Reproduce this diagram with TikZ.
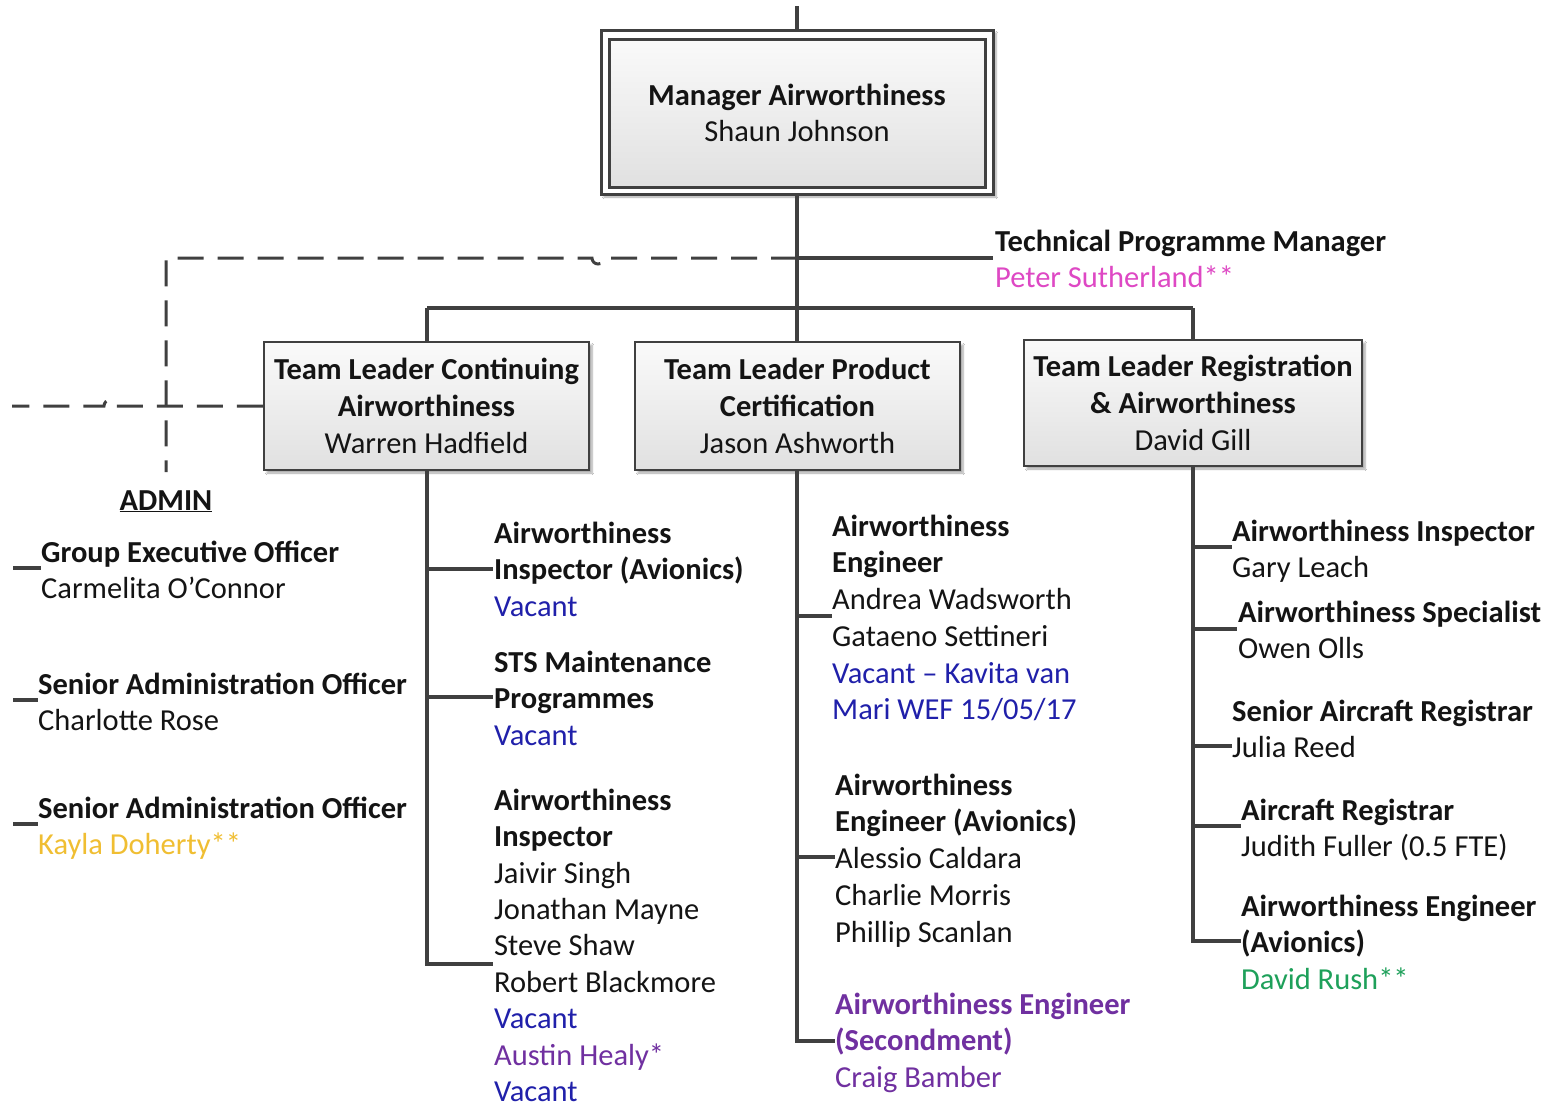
\documentclass[tikz,border=0pt]{standalone}
\usepackage{fontspec}
\setmainfont{Carlito}
\usetikzlibrary{shadows.blur}
\definecolor{ln}{RGB}{64,64,64}
\definecolor{vac}{RGB}{32,32,170}
\definecolor{pur}{RGB}{112,48,160}
\definecolor{mag}{RGB}{222,72,196}
\definecolor{gld}{RGB}{240,190,50}
\definecolor{grn}{RGB}{30,160,90}
\definecolor{txt}{RGB}{20,20,20}
\newcommand\fs{\fontsize{30.5}{36.7}\selectfont}
\newcommand\fl{\rule{0pt}{25pt}}
\begin{document}
\begin{tikzpicture}[x=1pt,y=-1pt,
  conn/.style={draw=ln, line width=4.5pt},
  thin conn/.style={draw=ln, line width=3.5pt},
  dsh/.style={draw=ln, line width=3pt, dash pattern=on 26pt off 14pt},
  boxshade/.style={top color=gray!4, bottom color=gray!24},
  shad/.style={blur shadow={shadow xshift=3pt, shadow yshift=-3pt, shadow blur steps=6, shadow opacity=35}},
  tlbox/.style={draw=ln, line width=2.5pt, boxshade, shad, minimum width=325pt, minimum height=128pt,
     align=center, inner sep=0, font=\fs, text=txt},
  lbl/.style={anchor=north west, inner sep=0, align=left, font=\fs, text=txt}]
\useasboundingbox (0,0) rectangle (1550,1106);
\fill[white] (0,0) rectangle (1550,1106);

% ---------- manager
\node[draw=ln, line width=3pt, fill=white, shad, minimum width=392pt, minimum height=164pt, inner sep=0] (mgrout) at (797,112) {};
\node[draw=ln, line width=3pt, boxshade, minimum width=376pt, minimum height=148pt, inner sep=0,
      align=center, font=\fs, text=txt] (mgr) at (797,113) {\textbf{Manager Airworthiness}\\Shaun Johnson};
\coordinate (topin) at (797,6);
\draw[conn] (topin) -- (mgrout.north);

% ---------- team leader boxes
\node[tlbox] (tl1) at (426.5,406) {\textbf{Team Leader Continuing}\\\textbf{Airworthiness}\\Warren Hadfield};
\node[tlbox] (tl2) at (797.5,406) {\textbf{Team Leader Product}\\\textbf{Certification}\\Jason Ashworth};
\node[tlbox, minimum width=338pt, minimum height=126pt] (tl3) at (1193,403) {\textbf{Team Leader Registration}\\\textbf{\& Airworthiness}\\David Gill};

% ---------- trunk and bar
\coordinate (bar) at (797,308);
\coordinate (barL) at (427,308);
\coordinate (barR) at (1193,308);
\draw[conn] (mgrout.south) -- (bar);
\draw[conn] (barL) -- (barR);
\draw[conn] (barL) -- (tl1.north -| barL);
\draw[conn] (bar) -- (tl2.north -| bar);
\draw[conn] (barR) -- (tl3.north -| barR);

% ---------- technical programme manager
\coordinate (tpm) at (797,258);
\coordinate (tpmend) at (993,258);
\draw[thin conn] (tpm) -- (tpmend);
\node[lbl] (tpmtxt) at (995,226) {\fl\textbf{Technical Programme Manager}\\\color{mag}Peter Sutherland**};

% ---------- dashed admin lines
\coordinate (dend) at (166,472);
\coordinate (adminL) at (12,406);
\draw[dsh] (tpm) -- (604,258) arc[start angle=0, end angle=180, radius=6] -- (166,258) -- (dend);
\draw[dsh] (tl1.west) -- (116,406) arc[start angle=0, end angle=-180, radius=6] -- (adminL);

% ---------- admin
\node[anchor=base, inner sep=0, font=\fs, text=txt] (admin) at (166,510) {\underline{\textbf{ADMIN}}};
\coordinate (a1s) at (13,568); \coordinate (a1e) at (41,568);
\coordinate (a2s) at (13,700); \coordinate (a2e) at (38,700);
\coordinate (a3s) at (13,824); \coordinate (a3e) at (38,824);
\draw[thin conn] (a1s) -- (a1e);
\draw[thin conn] (a2s) -- (a2e);
\draw[thin conn] (a3s) -- (a3e);
\node[lbl] (adm1) at (41,537) {\fl\textbf{Group Executive Officer}\\Carmelita O’Connor};
\node[lbl] (adm2) at (38,669) {\fl\textbf{Senior Administration Officer}\\Charlotte Rose};
\node[lbl] (adm3) at (38,793) {\fl\textbf{Senior Administration Officer}\\\color{gld}Kayla Doherty**};

% ---------- column 1
\coordinate (c1a) at (493,569);
\coordinate (c1b) at (493,697);
\coordinate (c1c) at (493,964);
\draw[conn] (tl1.south -| barL) |- (c1c);
\draw[conn] (barL |- c1a) -- (c1a);
\draw[conn] (barL |- c1b) -- (c1b);
\node[lbl] (c1at) at (494,518) {\fl\textbf{Airworthiness}\\\textbf{Inspector (Avionics)}\\\color{vac}Vacant};
\node[lbl] (c1bt) at (494,647) {\fl\textbf{STS Maintenance}\\\textbf{Programmes}\\\color{vac}Vacant};
\node[lbl, font=\fontsize{30.5}{36.4}\selectfont] (c1ct) at (494,785) {\fl\textbf{Airworthiness}\\\textbf{Inspector}\\Jaivir Singh\\Jonathan Mayne\\Steve Shaw\\Robert Blackmore\\{\color{vac}Vacant}\\{\color{pur}Austin Healy*}\\{\color{vac}Vacant}};

% ---------- column 2
\coordinate (c2a) at (832,616);
\coordinate (c2b) at (835,857);
\coordinate (c2c) at (835,1041);
\draw[conn] (tl2.south -| bar) |- (c2c);
\draw[conn] (bar |- c2a) -- (c2a);
\draw[conn] (bar |- c2b) -- (c2b);
\node[lbl] (c2at) at (832,511) {\fl\textbf{Airworthiness}\\\textbf{Engineer}\\Andrea Wadsworth\\Gataeno Settineri\\{\color{vac}Vacant – Kavita van}\\{\color{vac}Mari WEF 15/05/17}};
\node[lbl] (c2bt) at (835,770) {\fl\textbf{Airworthiness}\\\textbf{Engineer (Avionics)}\\Alessio Caldara\\Charlie Morris\\Phillip Scanlan};
\node[lbl, text=pur] (c2ct) at (835,989) {\fl\textbf{Airworthiness Engineer}\\\textbf{(Secondment)}\\Craig Bamber};

% ---------- column 3
\coordinate (c3a) at (1232,547);
\coordinate (c3b) at (1237,629);
\coordinate (c3c) at (1232,746);
\coordinate (c3d) at (1241,826);
\coordinate (c3e) at (1241,941);
\draw[conn] (tl3.south -| barR) |- (c3e);
\draw[conn] (barR |- c3a) -- (c3a);
\draw[conn] (barR |- c3b) -- (c3b);
\draw[conn] (barR |- c3c) -- (c3c);
\draw[conn] (barR |- c3d) -- (c3d);
\node[lbl] (c3at) at (1232,516) {\fl\textbf{Airworthiness Inspector}\\Gary Leach};
\node[lbl] (c3bt) at (1238,597) {\fl\textbf{Airworthiness Specialist}\\Owen Olls};
\node[lbl] (c3ct) at (1232,696) {\fl\textbf{Senior Aircraft Registrar}\\Julia Reed};
\node[lbl] (c3dt) at (1241,795) {\fl\textbf{Aircraft Registrar}\\Judith Fuller (0.5 FTE)};
\node[lbl] (c3et) at (1241,891) {\fl\textbf{Airworthiness Engineer}\\\textbf{(Avionics)}\\\color{grn}David Rush**};
\end{tikzpicture}
\end{document}
